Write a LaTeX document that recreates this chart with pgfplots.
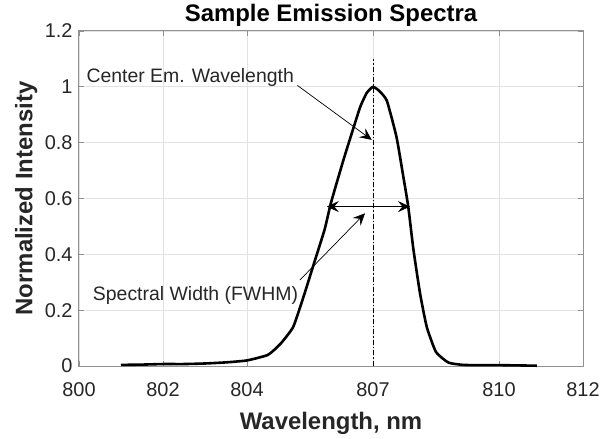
\documentclass[border=0pt]{standalone}
\usepackage{pgfplots}
\pgfplotsset{compat=1.18}
\usepackage{fontspec}
\setmainfont{Liberation Sans}
\usetikzlibrary{arrows.meta}
\definecolor{axgray}{RGB}{145,145,145}
\definecolor{gridgray}{RGB}{226,226,226}
\definecolor{txt}{RGB}{38,38,38}
\pgfplotstableread{
x y
801.0 0.004
801.5 0.005
802.0 0.007
802.5 0.007
803.0 0.009
803.5 0.013
804.0 0.02
804.5 0.04
804.8 0.08
805.1 0.14
805.35 0.25
805.6 0.37
805.85 0.49
806.0 0.585
806.3 0.74
806.55 0.86
806.7 0.93
806.85 0.978
807.0 1.0
807.15 0.985
807.33 0.95
807.56 0.82
807.72 0.68
807.84 0.57
807.96 0.42
808.12 0.26
808.28 0.14
808.5 0.05
808.8 0.012
809.15 0.004
809.5 0.003
810.0 0.003
810.5 0.002
810.9 0.001
}\spectrum
\begin{document}
\begin{tikzpicture}
\begin{axis}[
  at={(0,0)}, anchor=south west,
  scale only axis, width=504bp, height=335bp,
  xmin=800, xmax=812, ymin=0, ymax=1.2,
  xtick={800,802,804,807,810,812},
  xticklabels={800,802,804,807,810,812},
  ytick={0,0.2,0.4,0.6,0.8,1,1.2},
  yticklabels={0,0.2,0.4,0.6,0.8,1,1.2},
  grid=major,
  major grid style={gridgray, line width=0.8bp},
  axis line style={axgray, line width=1bp},
  tick style={axgray, line width=0.8bp},
  tick align=inside, major tick length=5bp,
  ticklabel style={font=\fontsize{20}{24}\selectfont, text=txt},
  xticklabel style={yshift=-13bp},
  yticklabel style={xshift=-3bp},
  title={Sample Emission Spectra},
  every axis title/.style={font=\bfseries\fontsize{24}{28}\selectfont, at={(axis description cs:0.5,1.048)}, anchor=center},
  xlabel={Wavelength, nm},
  xlabel style={font=\bfseries\fontsize{24}{28}\selectfont, text=txt, at={(axis description cs:0.5,-0.172)}, anchor=center},
  ylabel={Normalized Intensity},
  ylabel style={font=\bfseries\fontsize{24}{28}\selectfont, text=txt, at={(axis description cs:-0.105,0.5)}, anchor=center},
  clip=false,
]
\addplot[black, line width=2.6bp, line join=round, smooth, tension=0.3] table[x=x,y=y] {\spectrum};
\draw[black, line width=1bp, dash pattern=on 5bp off 2bp on 1.5bp off 2bp] (axis cs:807,0) -- (axis cs:807,1.1);
\draw[black, line width=0.7bp, -{Stealth[length=12bp,width=11bp,inset=4.5bp]}] (axis cs:805.2,1.005) -- (axis cs:806.97,0.81);
\draw[black, line width=0.7bp, {Stealth[length=12bp,width=11bp,inset=4.5bp]}-{Stealth[length=12bp,width=11bp,inset=4.5bp]}] (axis cs:805.9,0.571) -- (axis cs:807.88,0.571);
\draw[black, line width=0.7bp, -{Stealth[length=12bp,width=11bp,inset=4.5bp]}] (axis cs:805.26,0.308) -- (axis cs:806.81,0.547);
\node[anchor=east, inner sep=0pt, font=\fontsize{19.5}{23}\selectfont, text=txt] at (axis cs:805.12,1.035) {Center Em. Wavelength};
\node[anchor=east, inner sep=0pt, font=\fontsize{19.5}{23}\selectfont, text=txt] at (axis cs:805.22,0.254) {Spectral Width (FWHM)};
\end{axis}
\pgfresetboundingbox
\path[use as bounding box] (-79bp,-73bp) rectangle (524bp,366bp);
\end{tikzpicture}
\end{document}
